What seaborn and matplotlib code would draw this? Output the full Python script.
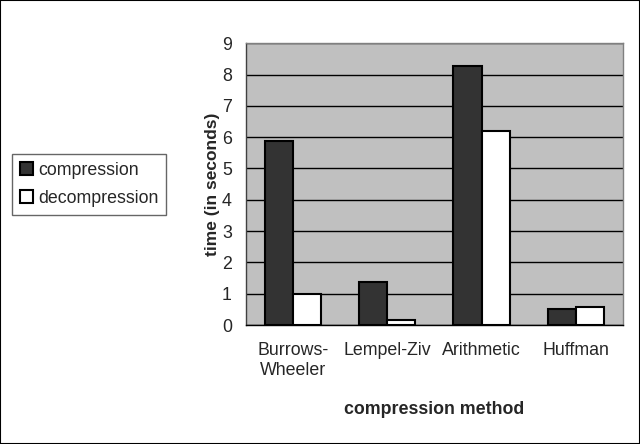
import matplotlib
matplotlib.use("Agg")
import matplotlib.pyplot as plt
import seaborn as sns
import pandas as pd
from matplotlib.patches import Rectangle, Patch

methods = ["Burrows-\nWheeler", "Lempel-Ziv", "Arithmetic", "Huffman"]
compression = [5.87, 1.38, 8.27, 0.51]
decompression = [1.0, 0.17, 6.2, 0.59]
series = ["compression", "decompression"]

df = pd.DataFrame({
    "method": methods * 2,
    "time": compression + decompression,
    "series": [series[0]] * 4 + [series[1]] * 4,
})

sns.set_theme(style="white")
plt.rcParams["font.family"] = ["Liberation Sans", "DejaVu Sans"]
FS = 12.8

fig = plt.figure(figsize=(6.4, 4.44), dpi=100)
ax = fig.add_axes([245.7 / 640, 1 - 325 / 444, (623 - 245.7) / 640, (325 - 43.3) / 444])
ax.set_facecolor("#c0c0c0")

sns.barplot(data=df, x="method", y="time", hue="series", order=methods,
            hue_order=series, palette={"compression": "#333333", "decompression": "#ffffff"},
            edgecolor="black", linewidth=1.5, width=0.6, ax=ax, legend=False, zorder=3)

ax.set_ylim(0, 9)
ax.set_xlim(-0.5, 3.5)
ax.set_yticks(range(0, 10))
ax.yaxis.grid(True, color="black", linewidth=1.0, zorder=1)
ax.set_axisbelow(True)
ax.set_xticks(range(4))
ax.set_xticklabels(methods, fontsize=FS)
ax.set_xticks([-0.5, 0.5, 1.5, 2.5, 3.5], minor=True)
ax.tick_params(axis="x", which="major", length=0, pad=12.5)
ax.tick_params(axis="x", which="minor", length=5, width=1, color="black", direction="out")
ax.tick_params(axis="y", length=5, width=1, color="black", direction="out", labelsize=FS, pad=5)
for s in ["top", "right"]:
    ax.spines[s].set_color("#808080")
    ax.spines[s].set_linewidth(1.0)
ax.spines["bottom"].set_color("black")
ax.spines["bottom"].set_linewidth(1.0)
ax.spines["left"].set_color("#404040")
ax.spines["left"].set_linewidth(1.0)

ax.set_xlabel("compression method", fontsize=FS, fontweight="bold", labelpad=16)
ax.set_ylabel("time (in seconds)", fontsize=12.5, fontweight="bold", labelpad=1)

handles = [Patch(facecolor="#333333", edgecolor="black", linewidth=1.5, label="compression"),
           Patch(facecolor="white", edgecolor="black", linewidth=1.5, label="decompression")]
leg = fig.legend(handles=handles, loc="upper left", bbox_to_anchor=(12 / 640, 1 - 154 / 444),
                 fontsize=FS, frameon=True, fancybox=False, edgecolor="#404040",
                 handlelength=0.72, handleheight=0.72, handletextpad=0.28,
                 borderpad=0.45, labelspacing=0.62, borderaxespad=0)
leg.get_frame().set_linewidth(1.0)

fig.patches.append(Rectangle((0, 0), 1, 1, transform=fig.transFigure, fill=False,
                             edgecolor="black", linewidth=1.5))

fig.savefig("out.png", dpi=100)
